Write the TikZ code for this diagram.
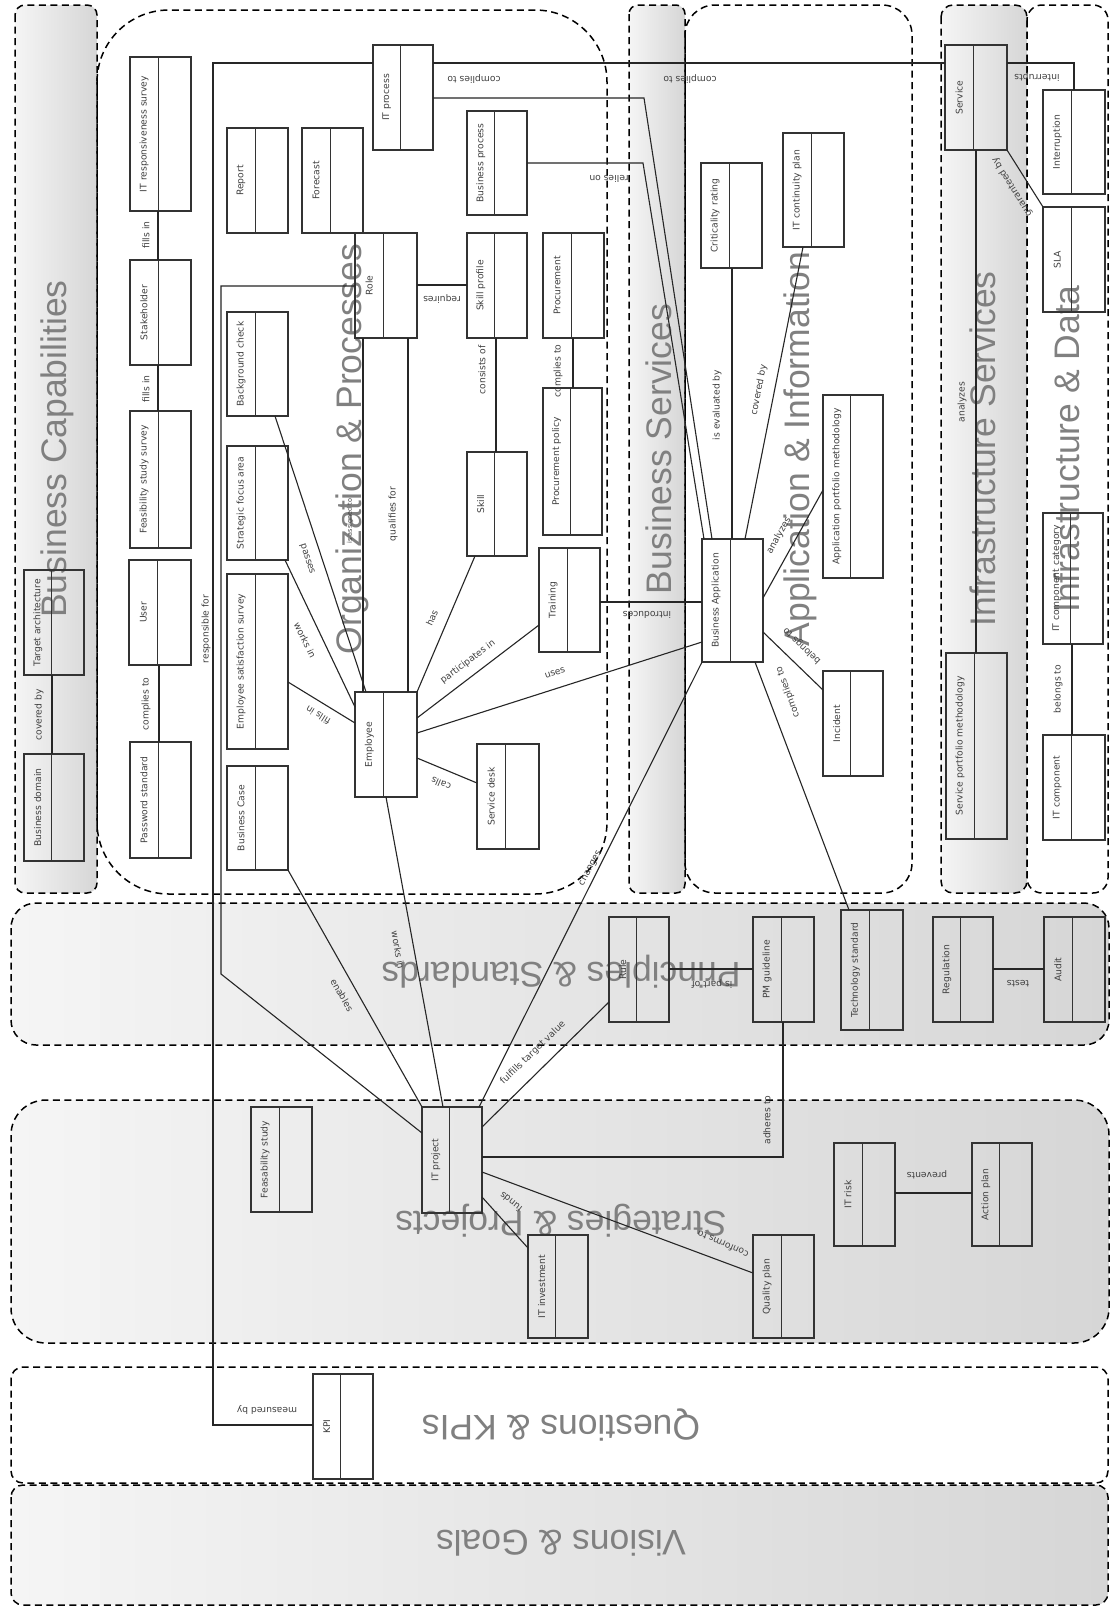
\documentclass[tikz,border=0pt]{standalone}
\usepackage{fontspec}
\setmainfont{DejaVu Sans}
\newfontfamily\titlefont{Liberation Sans}
\usetikzlibrary{calc}
\definecolor{boxc}{HTML}{333333}
\definecolor{titc}{HTML}{808080}
\definecolor{lanelight}{HTML}{F5F5F5}
\definecolor{lanedark}{HTML}{D6D6D6}
\tikzset{
  lane/.style={draw=black, line width=1.5pt, dash pattern=on 7pt off 4.5pt},
  glane/.style={lane, left color=lanelight, right color=lanedark},
  ubox/.style={draw=boxc, line width=1.1pt, shape=rectangle, inner sep=0pt, outer sep=0pt},
  boxline/.style={draw=boxc, line width=1.1pt},
  boxtext/.style={rotate=90, font=\fontsize{9.2}{10}\selectfont, text=black!75, inner sep=0pt},
  conn/.style={draw=black!85, line width=1.1pt},
  lbl/.style={font=\fontsize{9.2}{10}\selectfont, text=black!75, inner sep=0pt},
  ttl/.style={font=\titlefont\fontsize{35.5}{40}\selectfont, text=titc, inner sep=0pt},
}
\newcommand{\umlbox}[6]{%
  \node[ubox, minimum width={(#4-#2)*1pt}, minimum height={(#5-#3)*1pt}] (#1) at ({(#2+#4)/2},{(#3+#5)/2}) {};
  \draw[boxline] ($(#1.north west)!0.46!(#1.north east)$) -- ($(#1.south west)!0.46!(#1.south east)$);
  \node[boxtext] (#1t) at ($(#1.west)!0.23!(#1.east)$) {#6};
}
\begin{document}
\begin{tikzpicture}[x=1pt,y=-1pt]
\useasboundingbox (0,0) rectangle (1110,1607);
\fill[white] (0,0) rectangle (1110,1607);

% ---------- lanes ----------
\path[glane, rounded corners=10pt] (15,5) rectangle (97,893);
\path[lane, rounded corners=72pt] (97,10) rectangle (607,894);
\path[glane, rounded corners=9pt] (629,5) rectangle (685,893);
\path[lane, rounded corners=30pt] (685,5) rectangle (912,893);
\path[glane, rounded corners=12pt] (941,5) rectangle (1027,893);
\path[lane, rounded corners=15pt] (1027,5) rectangle (1108,893);
\path[glane, rounded corners=25pt] (11,903) rectangle (1109,1045);
\path[glane, rounded corners=35pt] (11,1100) rectangle (1109,1343);
\path[lane, rounded corners=12pt] (11,1367) rectangle (1108,1483);
\path[glane, rounded corners=12pt] (11,1485) rectangle (1108,1605);

% ---------- lane titles ----------
\node[ttl, rotate=90] (tbc) at (57,449) {Business Capabilities};
\node[ttl, rotate=90] (top) at (352,449) {Organization \& Processes};
\node[ttl, rotate=90] (tbs) at (659,449) {Business Services};
\node[ttl, rotate=90] (tai) at (800,449) {Application \& Information};
\node[ttl, rotate=90] (tis) at (983,449) {Infrastructure Services};
\node[ttl, rotate=90] (tid) at (1067,449) {Infrastructure \& Data};
\node[ttl, rotate=180] (tps) at (561,972) {Principles \& Standards};
\node[ttl, rotate=180] (tsp) at (561,1221) {Strategies \& Projects};
\node[ttl, rotate=180] (tqk) at (561,1425) {Questions \& KPIs};
\node[ttl, rotate=180] (tvg) at (561,1543) {Visions \& Goals};

% ---------- boxes ----------
\umlbox{bdomain}{24}{754}{84}{861}{Business domain}
\umlbox{tarch}{24}{570}{84}{675}{Target architecture}
\umlbox{itrs}{130}{57}{191}{211}{IT responsiveness survey}
\umlbox{stake}{130}{260}{191}{365}{Stakeholder}
\umlbox{fss}{130}{411}{191}{548}{Feasibility study survey}
\umlbox{user}{129}{560}{191}{665}{User}
\umlbox{pwd}{130}{742}{191}{858}{Password standard}
\umlbox{report}{227}{128}{288}{233}{Report}
\umlbox{bgc}{227}{312}{288}{416}{Background check}
\umlbox{sfa}{227}{446}{288}{560}{Strategic focus area}
\umlbox{ess}{227}{574}{288}{749}{Employee satisfaction survey}
\umlbox{bcase}{227}{766}{288}{870}{Business Case}
\umlbox{forecast}{302}{128}{363}{233}{Forecast}
\umlbox{role}{355}{233}{417}{338}{Role}
\umlbox{itproc}{373}{45}{433}{150}{IT process}
\umlbox{emp}{355}{692}{417}{797}{Employee}
\umlbox{bproc}{467}{111}{527}{215}{Business process}
\umlbox{skillp}{467}{233}{527}{338}{Skill profile}
\umlbox{skill}{467}{452}{527}{556}{Skill}
\umlbox{sdesk}{477}{744}{539}{849}{Service desk}
\umlbox{proc}{543}{233}{604}{338}{Procurement}
\umlbox{ppol}{543}{388}{602}{535}{Procurement policy}
\umlbox{train}{539}{548}{600}{652}{Training}
\umlbox{crit}{701}{163}{762}{268}{Criticality rating}
\umlbox{itcp}{783}{133}{844}{247}{IT continuity plan}
\umlbox{apm}{823}{395}{883}{578}{Application portfolio methodology}
\umlbox{bapp}{702}{539}{763}{662}{Business Application}
\umlbox{inc}{823}{671}{883}{776}{Incident}
\umlbox{service}{945}{45}{1007}{150}{Service}
\umlbox{spm}{946}{653}{1007}{839}{Service portfolio methodology}
\umlbox{interr}{1043}{90}{1105}{194}{Interruption}
\umlbox{sla}{1043}{207}{1105}{312}{SLA}
\umlbox{itcc}{1043}{513}{1103}{644}{IT component category}
\umlbox{itc}{1043}{735}{1105}{840}{IT component}
\umlbox{rule}{609}{917}{669}{1022}{Rule}
\umlbox{pmg}{753}{917}{814}{1022}{PM guideline}
\umlbox{tstd}{841}{910}{903}{1030}{Technology standard}
\umlbox{reg}{933}{917}{993}{1022}{Regulation}
\umlbox{audit}{1044}{917}{1105}{1022}{Audit}
\umlbox{fs}{251}{1107}{312}{1212}{Feasability study}
\umlbox{itproj}{422}{1107}{482}{1213}{IT project}
\umlbox{itinv}{528}{1235}{588}{1338}{IT investment}
\umlbox{qplan}{753}{1235}{814}{1338}{Quality plan}
\umlbox{itrisk}{834}{1143}{895}{1246}{IT risk}
\umlbox{aplan}{972}{1143}{1032}{1246}{Action plan}
\umlbox{kpi}{313}{1374}{373}{1479}{KPI}

% ---------- connectors ----------
\draw[conn] (tarch.south -| 52,0) -- (bdomain.north -| 52,0);
\draw[conn] (itrs.south -| 158,0) -- (stake.north -| 158,0);
\draw[conn] (stake.south -| 158,0) -- (fss.north -| 158,0);
\draw[conn] (user.south -| 159,0) -- (pwd.north -| 159,0);
\draw[conn] (itproc.west |- 0,63) -| (213,1425) -- (kpi.west |- 0,1425);
\draw[conn] (role.west |- 0,286) -| (221,974) -- (itproj.west |- 0,1133);
\draw[conn] (itproc.east |- 0,63) -- (service.west |- 0,63);
\draw[conn] (itproc.east |- 0,98) -- (644,98) -- (bapp.north -| 712,0);
\draw[conn] (bproc.east |- 0,163) -- (643,163) -- (bapp.north -| 704,0);
\draw[conn] (role.east |- 0,285) -- (skillp.west |- 0,285);
\draw[conn] (skillp.south -| 496,0) -- (skill.north -| 496,0);
\draw[conn] (proc.south -| 573,0) -- (ppol.north -| 573,0);
\draw[conn] (role.south -| 408,0) -- (emp.north -| 408,0);
\draw[conn] (role.south -| 363,0) -- (emp.north -| 363,0);
\draw[conn] (bgc.south -| 275,0) -- (emp.north -| 366,0);
\draw[conn] (sfa.south -| 285,0) -- (emp.west |- 0,707);
\draw[conn] (ess.east |- 0,682) -- (emp.west |- 0,723);
\draw[conn] (emp.north east) -- (skill.south -| 475,0);
\draw[conn] (emp.east |- 0,718) -- (train.west |- 0,625);
\draw[conn] (emp.east |- 0,733) -- (bapp.west |- 0,642);
\draw[conn] (emp.east |- 0,758) -- (sdesk.west |- 0,783);
\draw[conn] (train.east |- 0,602) -- (bapp.west |- 0,602);
\draw[conn] (crit.south -| 732,0) -- (bapp.north -| 732,0);
\draw[conn] (itcp.south -| 803,0) -- (bapp.north -| 745,0);
\draw[conn] (bapp.east |- 0,598) -- (apm.west |- 0,490);
\draw[conn] (bapp.east |- 0,632) -- (inc.west |- 0,690);
\draw[conn] (bapp.south -| 755,0) -- (tstd.north -| 849,0);
\draw[conn] (bapp.south west) -- (itproj.north -| 479,0);
\draw[conn] (emp.south -| 386,0) -- (itproj.north -| 443,0);
\draw[conn] (bcase.south east) -- (itproj.north west);
\draw[conn] (itproj.east |- 0,1127) -- (rule.west |- 0,1002);
\draw[conn] (rule.east |- 0,969) -- (pmg.west |- 0,969);
\draw[conn] (reg.east |- 0,969) -- (audit.west |- 0,969);
\draw[conn] (itproj.east |- 0,1157) -| (pmg.south -| 783,0);
\draw[conn] (itproj.east |- 0,1197) -- (itinv.west |- 0,1248);
\draw[conn] (itproj.east |- 0,1172) -- (qplan.west |- 0,1273);
\draw[conn] (itrisk.east |- 0,1193) -- (aplan.west |- 0,1193);
\draw[conn] (service.east |- 0,63) -| (interr.north -| 1074,0);
\draw[conn] (service.south east) -- (sla.north west);
\draw[conn] (service.south -| 976,0) -- (spm.north -| 976,0);
\draw[conn] (itcc.south -| 1072,0) -- (itc.north -| 1072,0);

% ---------- connector labels ----------
\node[lbl, rotate=90] (l1) at (39,715) {covered by};
\node[lbl, rotate=90] (l2) at (146,235) {fills in};
\node[lbl, rotate=90] (l3) at (146,389) {fills in};
\node[lbl, rotate=90] (l4) at (146,704) {complies to};
\node[lbl, rotate=180] (l5) at (267,1410) {measured by};
\node[lbl, rotate=90] (l6) at (206,629) {responsible for};
\node[lbl, rotate=180] (l7) at (690,79) {complies to};
\node[lbl, rotate=180] (l8) at (474,79) {complies to};
\node[lbl, rotate=180] (l9) at (609,179) {relies on};
\node[lbl, rotate=180] (l10) at (442,299) {requires};
\node[lbl, rotate=90] (l11) at (482,370) {consists of};
\node[lbl, rotate=90] (l12) at (558,371) {complies to};
\node[lbl, rotate=90] (l13) at (393,514) {qualifies for};
\node[lbl, rotate=90, font=\fontsize{6.5}{7}\selectfont] (l14) at (350,521) {is assigned to};
\node[lbl, rotate=-72] (l15) at (307,559) {passes};
\node[lbl, rotate=-64] (l16) at (305,640) {works in};
\node[lbl, rotate=148] (l17) at (318,715) {fills in};
\node[lbl, rotate=66] (l18) at (432,618) {has};
\node[lbl, rotate=37] (l19) at (468,662) {participates in};
\node[lbl, rotate=18] (l20) at (555,673) {uses};
\node[lbl, rotate=157] (l21) at (441,784) {calls};
\node[lbl, rotate=180] (l22) at (647,615) {introduces};
\node[lbl, rotate=90] (l23) at (717,405) {is evaluated by};
\node[lbl, rotate=79] (l24) at (759,390) {covered by};
\node[lbl, rotate=61] (l25) at (779,536) {analyzes};
\node[lbl, rotate=136] (l26) at (802,646) {belongs to};
\node[lbl, rotate=110] (l27) at (788,692) {complies to};
\node[lbl, rotate=62] (l28) at (590,868) {changes};
\node[lbl, rotate=-80] (l29) at (398,950) {works in};
\node[lbl, rotate=-60] (l30) at (342,995) {enables};
\node[lbl, rotate=44] (l31) at (533,1053) {fulfills target value};
\node[lbl, rotate=180] (l32) at (712,984) {is part of};
\node[lbl, rotate=180] (l33) at (1018,984) {tests};
\node[lbl, rotate=90] (l34) at (767,1120) {adheres to};
\node[lbl, rotate=142] (l35) at (511,1202) {funds};
\node[lbl, rotate=156] (l36) at (723,1244) {conforms to};
\node[lbl, rotate=180] (l37) at (927,1175) {prevents};
\node[lbl, rotate=180] (l38) at (1037,77) {interrupts};
\node[lbl, rotate=122] (l39) at (1012,187) {guaranteed by};
\node[lbl, rotate=90] (l40) at (962,402) {analyzes};
\node[lbl, rotate=90] (l41) at (1058,689) {belongs to};
\end{tikzpicture}
\end{document}
